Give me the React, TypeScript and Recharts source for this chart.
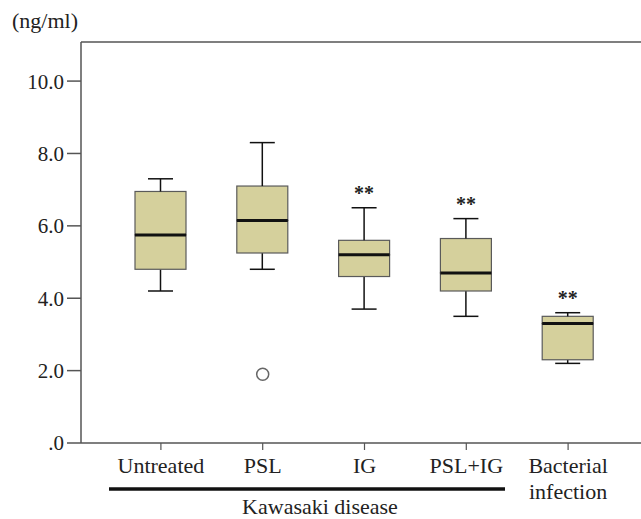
import React from 'react';
import {
  ComposedChart,
  Bar,
  Line,
  XAxis,
  YAxis,
  LabelList,
  ReferenceLine,
} from 'recharts';

// values (ng/ml)
const categories = ['Untreated', 'PSL', 'IG', 'PSL+IG', 'Bacterial\ninfection'];
const whiskerLow = [4.2, 4.8, 3.7, 3.5, 2.2];
const q1 = [4.8, 5.25, 4.6, 4.2, 2.3];
const median = [5.75, 6.15, 5.2, 4.7, 3.3];
const q3 = [6.95, 7.1, 5.6, 5.65, 3.5];
const whiskerHigh = [7.3, 8.3, 6.5, 6.2, 3.6];
const outliers: (number | null)[] = [null, 1.9, null, null, null];
const significance = ['', '', '**', '**', '**'];
const yTicks = [0, 2, 4, 6, 8, 10];

const FONT = 'Liberation Serif, Times New Roman, serif';
const BOX_FILL = '#D5D09C';
const BOX_STROKE = '#5a5a5a';
const AXIS = '#555';

// stacked segments: base -> lower whisker -> lower box half -> upper box half -> upper whisker
const data = categories.map((name, i) => ({
  name,
  base: whiskerLow[i],
  lowWhisker: q1[i] - whiskerLow[i],
  lowBox: median[i] - q1[i],
  highBox: q3[i] - median[i],
  highWhisker: whiskerHigh[i] - q3[i],
  outlier: outliers[i],
  sig: significance[i],
}));

const LowWhisker = (props: any) => {
  const { x, y, width, height } = props;
  const cx = x + width / 2;
  const bottom = y + height;
  return (
    <g stroke="#111" strokeWidth={1.5}>
      <line x1={cx} y1={y} x2={cx} y2={bottom} />
      <line x1={cx - 12.5} y1={bottom} x2={cx + 12.5} y2={bottom} />
    </g>
  );
};

const HighWhisker = (props: any) => {
  const { x, y, width, height } = props;
  const cx = x + width / 2;
  return (
    <g stroke="#111" strokeWidth={1.5}>
      <line x1={cx} y1={y} x2={cx} y2={y + height} />
      <line x1={cx - 12.5} y1={y} x2={cx + 12.5} y2={y} />
    </g>
  );
};

const BoxHalf = (props: any) => {
  const { x, y, width, height } = props;
  return (
    <rect x={x} y={y} width={width} height={height} fill={BOX_FILL} stroke={BOX_STROKE} strokeWidth={1.2} />
  );
};

const UpperBoxHalf = (props: any) => {
  const { x, y, width, height } = props;
  return (
    <g>
      <rect x={x} y={y} width={width} height={height} fill={BOX_FILL} stroke={BOX_STROKE} strokeWidth={1.2} />
      <line x1={x} y1={y + height} x2={x + width} y2={y + height} stroke="#111" strokeWidth={3} />
    </g>
  );
};

const CategoryTick = (props: any) => {
  const { x, y, payload } = props;
  const lines = String(payload.value).split('\n');
  return (
    <text x={x} y={y} textAnchor="middle" fill="#222" fontFamily={FONT} fontSize={22}>
      {lines.map((l, i) => (
        <tspan key={i} x={x} dy={i === 0 ? '0.71em' : 26}>
          {l}
        </tspan>
      ))}
    </text>
  );
};

export default function App() {
  return (
    <div
      style={{
        position: 'absolute',
        left: 0,
        top: 0,
        width: 641,
        height: 519,
        overflow: 'hidden',
        background: '#fff',
      }}
    >
      <ComposedChart
        width={641}
        height={519}
        data={data}
        margin={{ top: 42, right: -7, bottom: 0, left: 0 }}
      >
        <XAxis
          dataKey="name"
          height={76}
          padding={{ left: 29, right: 29 }}
          tick={<CategoryTick />}
          tickSize={7}
          tickMargin={7}
          interval={0}
          axisLine={{ stroke: AXIS, strokeWidth: 1.5 }}
          tickLine={{ stroke: AXIS, strokeWidth: 1.2 }}
        />
        <YAxis
          width={81}
          domain={[0, 11.08]}
          ticks={yTicks}
          allowDataOverflow
          tickFormatter={(v: number) => (v === 0 ? '.0' : v.toFixed(1))}
          tickSize={14}
          tickMargin={3}
          tick={{ fill: '#222', fontFamily: FONT, fontSize: 21 }}
          axisLine={{ stroke: AXIS, strokeWidth: 1.5 }}
          tickLine={{ stroke: AXIS, strokeWidth: 1.5 }}
        />
        <ReferenceLine y={11.08} stroke={AXIS} strokeWidth={1.5} />
        <Bar dataKey="base" stackId="box" fill="transparent" barSize={51} isAnimationActive={false} />
        <Bar dataKey="lowWhisker" stackId="box" barSize={51} shape={LowWhisker} isAnimationActive={false} />
        <Bar dataKey="lowBox" stackId="box" barSize={51} shape={BoxHalf} isAnimationActive={false} />
        <Bar dataKey="highBox" stackId="box" barSize={51} shape={UpperBoxHalf} isAnimationActive={false} />
        <Bar dataKey="highWhisker" stackId="box" barSize={51} shape={HighWhisker} isAnimationActive={false}>
          <LabelList
            dataKey="sig"
            position="top"
            offset={8}
            fill="#222"
            fontFamily={FONT}
            fontSize={20}
            fontWeight="bold"
          />
        </Bar>
        <Line
          dataKey="outlier"
          stroke="none"
          dot={{ r: 6, fill: '#fff', stroke: '#666', strokeWidth: 1.5 }}
          activeDot={false}
          isAnimationActive={false}
        />
      </ComposedChart>
      <svg
        width={641}
        height={519}
        style={{ position: 'absolute', left: 0, top: 0, pointerEvents: 'none' }}
      >
        <text x={12} y={28} fill="#222" fontFamily={FONT} fontSize={22}>
          (ng/ml)
        </text>
        <line x1={109} y1={489} x2={505} y2={489} stroke="#111" strokeWidth={3.5} />
        <text x={320} y={514} textAnchor="middle" fill="#222" fontFamily={FONT} fontSize={22}>
          Kawasaki disease
        </text>
      </svg>
    </div>
  );
}
